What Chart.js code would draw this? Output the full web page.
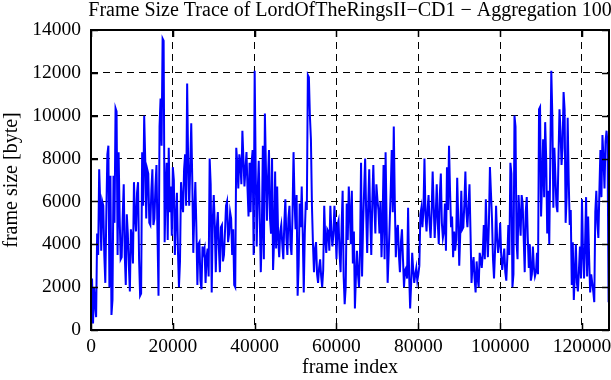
<!DOCTYPE html>
<html>
<head>
<meta charset="utf-8">
<script src="https://cdn.jsdelivr.net/npm/chart.js@4.4.0/dist/chart.umd.min.js"></script>
<style>
  html, body { margin: 0; padding: 0; background: #fff; }
  #wrap { width: 611px; height: 380px; }
</style>
</head>
<body>
<div id="wrap"><canvas id="trace" width="611" height="380"></canvas></div>
<script>
const chartTitle = "Frame Size Trace of LordOfTheRingsII\u2212CD1 \u2212 Aggregation 100";
const xLabel = "frame index";
const yLabel = "frame size [byte]";

const xTickValues = [0, 20000, 40000, 60000, 80000, 100000, 120000];
const yTickValues = [0, 2000, 4000, 6000, 8000, 10000, 12000, 14000];

// one sample every 250 frames
const step = 250;
const frameSize = [
  1800, 2400, 300, 2000, 1200, 600, 4500, 3500, 7500, 6000,
  3700, 6000, 5800, 3500, 2200, 5500, 8200, 8600, 2000, 7200,
  700, 1400, 7200, 5000, 10350, 10200, 3500, 8300, 5300, 3300,
  3400, 5300, 6800, 3500, 2100, 5400, 4500, 3000, 1800, 4700,
  4300, 3100, 6900, 5300, 4600, 6400, 6900, 3300, 1600, 1700,
  8300, 5800, 10000, 8000, 5200, 7500, 7300, 5000, 4900, 6500,
  7500, 4900, 5200, 6700, 7700, 4500, 1600, 9500, 10800, 8600,
  13600, 13500, 4100, 6600, 7800, 4200, 8500, 5500, 6700, 4400,
  7600, 7000, 3500, 5200, 6400, 3700, 2000, 3200, 6900, 6000,
  5500, 7500, 8200, 5800, 11500, 7800, 5800, 7600, 9650, 7000,
  3600, 5500, 6900, 4800, 2100, 4000, 4100, 2300, 1900, 3900,
  3600, 3800, 2200, 3400, 3800, 2500, 8000, 6800, 1750, 5000,
  6300, 4900, 2700, 4800, 5500, 3800, 2700, 4800, 4900, 3200,
  3500, 4600, 5800, 6000, 4100, 4500, 5500, 5200, 3500, 4700,
  2100, 2000, 8500, 7800, 6600, 8200, 7800, 6800, 9300, 8000,
  6700, 7500, 8300, 6600, 5300, 7800, 5500, 7800, 8400, 3500,
  12100, 7500, 3900, 6500, 7900, 5200, 2700, 4600, 8600, 3300,
  10100, 7600, 5100, 7000, 8400, 5200, 4500, 8000, 2800, 4200,
  7400, 3800, 6700, 4300, 3400, 4600, 4900, 4000, 3300, 5000,
  6100, 4300, 3500, 5200, 5800, 4000, 3500, 5400, 8300, 6000,
  4700, 6300, 1600, 3000, 5900, 4800, 6700, 4500, 1750, 4500,
  6000, 5600, 11900, 11800, 10000, 8900, 5800, 4000, 2700, 3800,
  4100, 2600, 2200, 2900, 3300, 2500, 2000, 2800, 5800, 4300,
  3600, 4700, 4600, 3700, 5800, 4600, 3900, 4500, 5800, 4700,
  3300, 4900, 5100, 3600, 2700, 4800, 6500, 2500, 1200, 2000,
  5900, 4200, 6700, 5500, 4000, 6500, 3100, 4600, 1000, 2500,
  3700, 2600, 2000, 3700, 7800, 2500, 4900, 6500, 8000, 5500,
  3600, 5800, 7500, 5200, 3500, 6000, 7700, 5800, 4500, 6800,
  6100, 5600, 4500, 6000, 3400, 5000, 7700, 3300, 8300, 5000,
  2200, 3500, 5000, 6500, 8400, 5500, 9500, 6000, 3400, 4600,
  4900, 3500, 2700, 4100, 4700, 3300, 2000, 2800, 2900, 2400,
  5700, 2600, 1000, 2200, 3600, 2800, 2200, 2600, 2900, 2300,
  2600, 3000, 5400, 5700, 4800, 5600, 8000, 5400, 4600, 5600,
  6300, 5000, 4300, 5500, 7400, 5800, 4300, 5400, 6800, 5000,
  4000, 6300, 7300, 5000, 4300, 4600, 5900, 3700, 7600, 5600,
  8600, 6500, 4800, 5300, 3400, 4600, 3700, 4200, 7100, 5200,
  3000, 4500, 6500, 4700, 4800, 5900, 7400, 5500, 4800, 5800,
  6800, 4600, 2200, 3000, 3400, 2400, 1750, 3200, 2400, 2000,
  3600, 3300, 2900, 3600, 4900, 3300, 6100, 4500, 3400, 5000,
  7600, 6400, 5200, 3300, 2400, 3700, 5800, 4300, 3600, 4000,
  5000, 3500, 2800, 3300, 3800, 2700, 2300, 3400, 4900, 3500,
  7800, 7300, 2000, 2600, 10000, 9500, 4100, 3300, 6300, 5300,
  4400, 6300, 5900, 4300, 2700, 5500, 6200, 4300, 2900, 4000,
  2300, 2600, 3900, 2900, 2500, 2700, 3600, 2600, 10300, 10400,
  5300, 7000, 8900, 6200, 9700, 8000, 4500, 6500, 4000, 8000,
  12100, 10000, 5700, 8500, 7200, 5800, 5500, 8000, 10300, 9300,
  7700, 8500, 11100, 10300, 5000, 6200, 9900, 7000, 4900, 5600,
  2100, 4100, 1400, 2600, 4000, 2200, 1800, 2800, 3900, 2400,
  6100, 3600, 2400, 4000, 6200, 2500, 5300, 3300, 1750, 2600,
  2200, 1800, 1300, 5500, 6500, 5000, 4300, 6500, 8400, 6200,
  9100, 8000, 6600, 8800, 9300, 8700, 1300
];
const frameIndex = frameSize.map((_, i) => i * step);
const xMax = 126600;
const yMax = 14000;

const serif = "'Liberation Serif', 'Times New Roman', serif";

// gnuplot-like frame, inward ticks and the title
const gnuplotFrame = {
  id: "gnuplotFrame",
  beforeDraw(chart) {
    const ctx = chart.ctx;
    ctx.save();
    ctx.fillStyle = "#fff";
    ctx.fillRect(0, 0, chart.width, chart.height);
    ctx.restore();
  },
  afterDraw(chart) {
    const ctx = chart.ctx;
    const a = chart.chartArea;
    const xs = chart.scales.x;
    const ys = chart.scales.y;
    const len = 7;
    ctx.save();
    ctx.strokeStyle = "#000";
    ctx.lineWidth = 1.5;
    ctx.beginPath();
    xs.ticks.forEach(t => {
      const px = Math.round(xs.getPixelForValue(t.value)) + 0.5;
      ctx.moveTo(px, a.bottom); ctx.lineTo(px, a.bottom - len);
      ctx.moveTo(px, a.top); ctx.lineTo(px, a.top + len);
    });
    ys.ticks.forEach(t => {
      const py = Math.round(ys.getPixelForValue(t.value)) + 0.5;
      ctx.moveTo(a.left, py); ctx.lineTo(a.left + len, py);
      ctx.moveTo(a.right, py); ctx.lineTo(a.right - len, py);
    });
    ctx.stroke();
    ctx.lineWidth = 2;
    ctx.strokeRect(a.left, a.top, a.right - a.left, a.bottom - a.top);

    ctx.fillStyle = "#000";
    ctx.font = "20px " + serif;
    ctx.textAlign = "center";
    ctx.textBaseline = "alphabetic";
    ctx.fillText(chartTitle, (a.left + a.right) / 2, 16);
    ctx.restore();
  }
};

new Chart(document.getElementById("trace"), {
  type: "line",
  data: {
    datasets: [{
      data: frameIndex.map((x, i) => ({ x: x, y: frameSize[i] })),
      borderColor: "#0000ff",
      borderWidth: 2,
      pointRadius: 0,
      tension: 0,
      fill: false
    }]
  },
  options: {
    responsive: false,
    animation: false,
    layout: { padding: { top: 30, right: 2, left: 0, bottom: 0 } },
    plugins: { legend: { display: false }, tooltip: { enabled: false }, title: { display: false } },
    scales: {
      x: {
        type: "linear",
        min: 0,
        max: xMax,
        afterBuildTicks(scale) { scale.ticks = xTickValues.map(v => ({ value: v })); },
        afterFit(scale) {
          scale.height = 50;
          scale.paddingLeft = 0;
          scale.paddingRight = 0;
        },
        border: { display: false, dash: [7, 5] },
        grid: { color: "#000", lineWidth: 1, drawTicks: false },
        ticks: {
          autoSkip: false,
          maxRotation: 0,
          padding: 5,
          color: "#000",
          font: { family: serif, size: 19.5 },
          callback: v => String(v)
        },
        title: {
          display: true,
          text: xLabel,
          color: "#000",
          padding: 0,
          font: { family: serif, size: 20 }
        }
      },
      y: {
        min: 0,
        max: yMax,
        afterBuildTicks(scale) { scale.ticks = yTickValues.map(v => ({ value: v })); },
        afterFit(scale) {
          scale.width = 91;
          scale.paddingTop = 0;
          scale.paddingBottom = 0;
        },
        border: { display: false, dash: [7, 5] },
        grid: { color: "#000", lineWidth: 1, drawTicks: false },
        ticks: {
          padding: 10,
          color: "#000",
          font: { family: serif, size: 19.5 },
          callback: v => String(v)
        },
        title: {
          display: true,
          text: yLabel,
          color: "#000",
          padding: 0,
          font: { family: serif, size: 20 }
        }
      }
    }
  },
  plugins: [gnuplotFrame]
});
</script>
</body>
</html>
